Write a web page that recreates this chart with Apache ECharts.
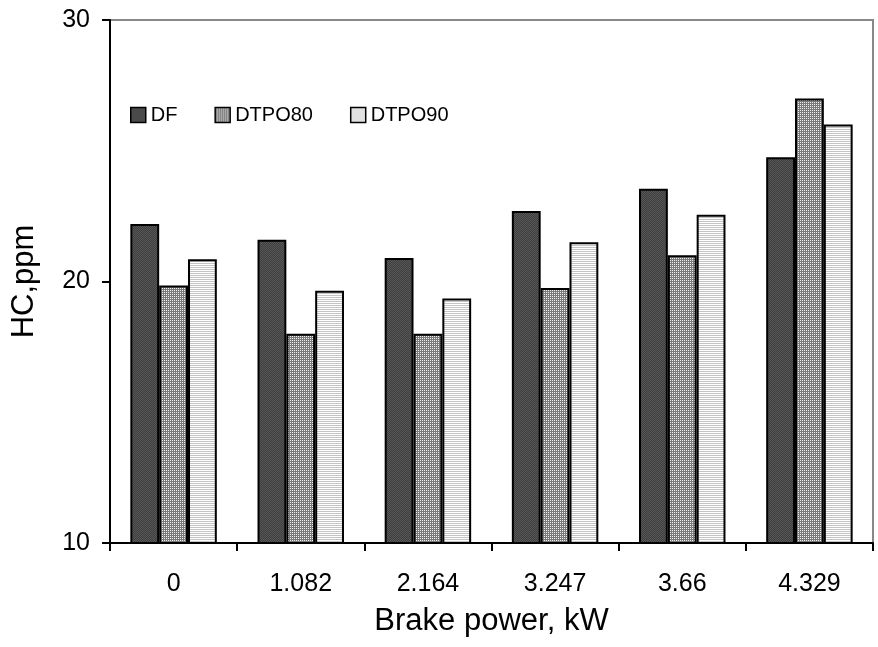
<!DOCTYPE html>
<html>
<head>
<meta charset="utf-8">
<script src="https://cdn.jsdelivr.net/npm/echarts@6/dist/echarts.min.js"></script>
<style>
  html, body { margin: 0; padding: 0; background: #fff; }
  #chart { width: 878px; height: 647px; }
</style>
</head>
<body>
<div id="chart"></div>
<script>
// data
const categories = ['0', '1.082', '2.164', '3.247', '3.66', '4.329'];
const seriesNames = ['DF', 'DTPO80', 'DTPO90'];
const dfValues = [22.2, 21.6, 20.9, 22.7, 23.55, 24.75];
const dtpo80Values = [19.85, 18.0, 18.0, 19.75, 21.0, 27.0];
const dtpo90Values = [20.85, 19.65, 19.35, 21.5, 22.55, 26.0];
const yTicks = [10, 20, 30];

// small canvas fills to mimic the hatched excel bars
const makePattern = (w, h, draw) => {
  const c = document.createElement('canvas');
  c.width = w;
  c.height = h;
  draw(c.getContext('2d'));
  return { image: c, repeat: 'repeat' };
};

const dfFill = makePattern(2, 2, (ctx) => {
  ctx.fillStyle = '#3e3e3e';
  ctx.fillRect(0, 0, 2, 2);
  ctx.fillStyle = '#575757';
  ctx.fillRect(0, 0, 1, 1);
  ctx.fillRect(1, 1, 1, 1);
});
const dtpo80Fill = makePattern(2, 2, (ctx) => {
  ctx.fillStyle = '#7a7a7a';
  ctx.fillRect(0, 0, 2, 2);
  ctx.fillStyle = '#f0f0f0';
  ctx.fillRect(0, 0, 1, 1);
});
const dtpo90Fill = makePattern(2, 2, (ctx) => {
  ctx.fillStyle = '#ffffff';
  ctx.fillRect(0, 0, 2, 2);
  ctx.fillStyle = '#c4c4c4';
  ctx.fillRect(0, 1, 2, 1);
});

const fills = [dfFill, dtpo80Fill, dtpo90Fill];
const values = [dfValues, dtpo80Values, dtpo90Values];

const font = '"Liberation Sans", Arial, sans-serif';

const myChart = echarts.init(document.getElementById('chart'), null, { renderer: 'canvas' });

const option = {
  animation: false,
  backgroundColor: '#fff',
  textStyle: { fontFamily: font, color: '#000' },
  grid: {
    left: 110,
    right: 5,
    top: 20,
    bottom: 104,
    show: true,
    borderColor: '#888',
    borderWidth: 2,
    backgroundColor: 'transparent'
  },
  legend: {
    data: seriesNames,
    left: 130,
    top: 105,
    padding: 0,
    icon: 'rect',
    itemWidth: 15,
    itemHeight: 15,
    itemGap: 37,
    itemStyle: { borderColor: '#000', borderWidth: 1.5 },
    textStyle: { fontSize: 20, fontFamily: font, color: '#000' }
  },
  xAxis: {
    type: 'category',
    data: categories,
    name: 'Brake power, kW',
    nameLocation: 'middle',
    nameGap: 63,
    nameTextStyle: { fontSize: 31, fontFamily: font, color: '#000' },
    axisLine: { show: true, lineStyle: { color: '#000', width: 2 } },
    axisTick: { show: true, length: 8, lineStyle: { color: '#000', width: 2 } },
    axisLabel: { fontSize: 25, color: '#000', margin: 29, fontFamily: font },
    splitLine: { show: false },
    z: 5
  },
  yAxis: {
    type: 'value',
    min: yTicks[0],
    max: yTicks[yTicks.length - 1],
    interval: 10,
    name: 'HC,ppm',
    nameLocation: 'middle',
    nameGap: 70,
    nameTextStyle: { fontSize: 31, fontFamily: font, color: '#000' },
    axisLine: { show: true, lineStyle: { color: '#000', width: 2 } },
    axisTick: { show: true, length: 8, lineStyle: { color: '#000', width: 2 } },
    axisLabel: { fontSize: 25, color: '#000', margin: 20, fontFamily: font },
    splitLine: { show: false },
    z: 5
  },
  series: seriesNames.map((name, i) => ({
    name: name,
    type: 'bar',
    data: values[i],
    barGap: '0%',
    barCategoryGap: '32%',
    itemStyle: { color: fills[i], borderColor: '#000', borderWidth: 2 }
  }))
};

option && myChart.setOption(option);
</script>
</body>
</html>
